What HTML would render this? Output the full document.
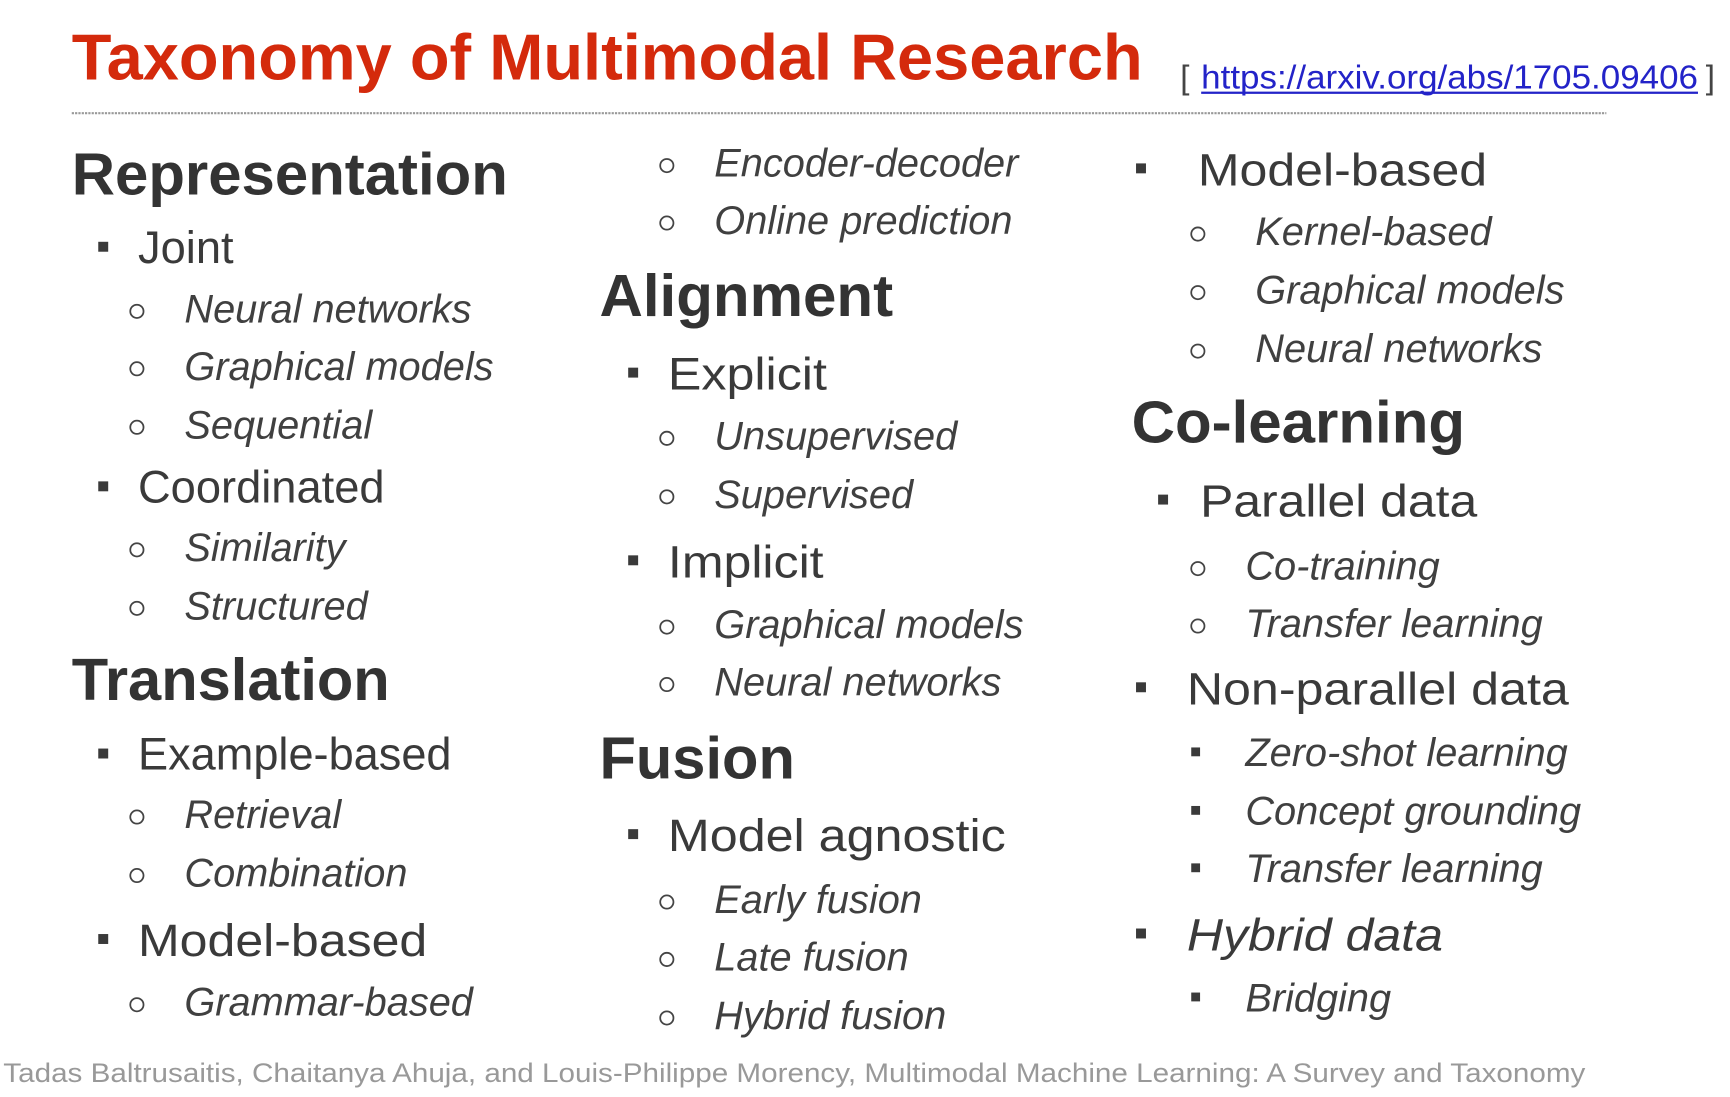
<!DOCTYPE html>
<html><head><meta charset="utf-8"><style>
html,body{margin:0;padding:0;background:#fff;}
svg{display:block;}
text{font-family:"Liberation Sans",Arial,sans-serif;}
.h{font-size:54px;font-weight:bold;fill:#333;}
.a{font-size:41px;fill:#3a3a3a;}
.i{font-size:36px;font-style:italic;fill:#404040;}
.ai{font-size:41px;font-style:italic;fill:#3a3a3a;}
</style></head><body>
<svg width="1730" height="1097" viewBox="0 0 1567 993.6" preserveAspectRatio="none" xmlns="http://www.w3.org/2000/svg">
<rect width="1567" height="994" fill="#fff"/>
<text x="65" y="72" font-size="58.6" font-weight="bold" fill="#d42a0c" textLength="970" lengthAdjust="spacingAndGlyphs">Taxonomy of Multimodal Research</text>
<text x="1069" y="80" font-size="30" fill="#444">[</text>
<text x="1088" y="80" font-size="30" fill="#2323c8" textLength="450" lengthAdjust="spacingAndGlyphs">https://arxiv.org/abs/1705.09406</text>
<line x1="1088" y1="84" x2="1538" y2="84" stroke="#2323c8" stroke-width="2"/>
<text x="1545" y="80" font-size="30" fill="#444">]</text>
<line x1="65" y1="102.5" x2="1455" y2="102.5" stroke="#999" stroke-width="2" stroke-dasharray="2 1"/>

<g fill="#3a3a3a">
<text class="h" x="65" y="176" textLength="395" lengthAdjust="spacingAndGlyphs">Representation</text>
<rect x="89" y="219" width="9" height="9"/><text class="a" x="125" y="238">Joint</text>
<text class="i" x="167" y="292">Neural networks</text>
<text class="i" x="167" y="344">Graphical models</text>
<text class="i" x="167" y="397">Sequential</text>
<rect x="89" y="436" width="9" height="9"/><text class="a" x="125" y="455">Coordinated</text>
<text class="i" x="167" y="508">Similarity</text>
<text class="i" x="167" y="561">Structured</text>
<text class="h" x="65" y="634" textLength="288" lengthAdjust="spacingAndGlyphs">Translation</text>
<rect x="89" y="678" width="9" height="9"/><text class="a" x="125" y="697" textLength="284" lengthAdjust="spacingAndGlyphs">Example-based</text>
<text class="i" x="167" y="750">Retrieval</text>
<text class="i" x="167" y="803">Combination</text>
<rect x="89" y="846" width="9" height="9"/><text class="a" x="125" y="866" font-size="44" textLength="262" lengthAdjust="spacingAndGlyphs">Model-based</text>
<text class="i" x="167" y="920">Grammar-based</text>
<text class="i" x="647" y="160">Encoder-decoder</text>
<text class="i" x="647" y="212">Online prediction</text>
<text class="h" x="543" y="286" textLength="266" lengthAdjust="spacingAndGlyphs">Alignment</text>
<rect x="569" y="333" width="9" height="9"/><text class="a" x="605" y="353" font-size="44" textLength="144" lengthAdjust="spacingAndGlyphs">Explicit</text>
<text class="i" x="647" y="407">Unsupervised</text>
<text class="i" x="647" y="460">Supervised</text>
<rect x="569" y="503" width="9" height="9"/><text class="a" x="605" y="523" font-size="44" textLength="141" lengthAdjust="spacingAndGlyphs">Implicit</text>
<text class="i" x="647" y="578">Graphical models</text>
<text class="i" x="647" y="630">Neural networks</text>
<text class="h" x="543" y="705" textLength="177" lengthAdjust="spacingAndGlyphs">Fusion</text>
<rect x="569" y="751" width="9" height="9"/><text class="a" x="605" y="771" font-size="44" textLength="306" lengthAdjust="spacingAndGlyphs">Model agnostic</text>
<text class="i" x="647" y="827">Early fusion</text>
<text class="i" x="647" y="879">Late fusion</text>
<text class="i" x="647" y="932">Hybrid fusion</text>
<rect x="1029" y="148" width="9" height="9"/><text class="a" x="1085" y="168" font-size="44" textLength="262" lengthAdjust="spacingAndGlyphs">Model-based</text>
<text class="i" x="1137" y="222">Kernel-based</text>
<text class="i" x="1137" y="275">Graphical models</text>
<text class="i" x="1137" y="328">Neural networks</text>
<text class="h" x="1025" y="401" textLength="302" lengthAdjust="spacingAndGlyphs">Co-learning</text>
<rect x="1049" y="448" width="9" height="9"/><text class="a" x="1087" y="468" font-size="44" textLength="251" lengthAdjust="spacingAndGlyphs">Parallel data</text>
<text class="i" x="1128" y="525">Co-training</text>
<text class="i" x="1128" y="577">Transfer learning</text>
<rect x="1029" y="618" width="9" height="9"/><text class="a" x="1075" y="638" font-size="44" textLength="346" lengthAdjust="spacingAndGlyphs">Non-parallel data</text>
<rect x="1079" y="677" width="8" height="8"/><text class="i" x="1128" y="694">Zero-shot learning</text>
<rect x="1079" y="730" width="8" height="8"/><text class="i" x="1128" y="747">Concept grounding</text>
<rect x="1079" y="782" width="8" height="8"/><text class="i" x="1128" y="799">Transfer learning</text>
<rect x="1029" y="841" width="9" height="9"/><text class="ai" x="1075" y="861" font-size="44" textLength="232" lengthAdjust="spacingAndGlyphs">Hybrid data</text>
<rect x="1079" y="899" width="8" height="8"/><text class="i" x="1128" y="916">Bridging</text>
</g>
<g fill="none" stroke="#444" stroke-width="1.6">
<circle cx="124" cy="282" r="6"/><circle cx="124" cy="334" r="6"/><circle cx="124" cy="387" r="6"/>
<circle cx="124" cy="498" r="6"/><circle cx="124" cy="551" r="6"/>
<circle cx="124" cy="740" r="6"/><circle cx="124" cy="793" r="6"/><circle cx="124" cy="910" r="6"/>
<circle cx="604" cy="150" r="6"/><circle cx="604" cy="202" r="6"/>
<circle cx="604" cy="397" r="6"/><circle cx="604" cy="450" r="6"/>
<circle cx="604" cy="568" r="6"/><circle cx="604" cy="620" r="6"/>
<circle cx="604" cy="817" r="6"/><circle cx="604" cy="869" r="6"/><circle cx="604" cy="922" r="6"/>
<circle cx="1085" cy="212" r="6"/><circle cx="1085" cy="265" r="6"/><circle cx="1085" cy="318" r="6"/>
<circle cx="1085" cy="515" r="6"/><circle cx="1085" cy="567" r="6"/>
</g>
<text x="3" y="980" font-size="24" fill="#999" textLength="1433" lengthAdjust="spacingAndGlyphs">Tadas Baltrusaitis, Chaitanya Ahuja, and Louis-Philippe Morency, Multimodal Machine Learning: A Survey and Taxonomy</text>
</svg>
</body></html>
